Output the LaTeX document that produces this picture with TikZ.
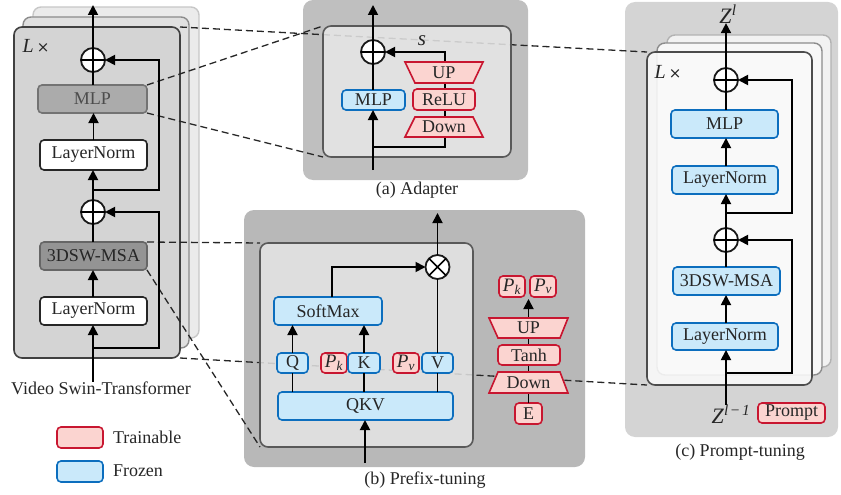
\documentclass[tikz,border=0pt]{standalone}
\usepackage{fontspec}
\setmainfont{Liberation Serif}
\newfontfamily\symfont{DejaVu Sans}
\usetikzlibrary{arrows.meta}
\definecolor{redB}{RGB}{200,22,48}
\definecolor{redF}{RGB}{251,212,208}
\definecolor{bluB}{RGB}{12,110,190}
\definecolor{bluF}{RGB}{202,233,250}
\newcommand{\Pk}{{\fontsize{19}{20}\selectfont\textit{P}\textsubscript{\textit{k}}}}
\newcommand{\Pv}{{\fontsize{19}{20}\selectfont\textit{P}\textsubscript{\textit{v}}}}
\newcommand{\Lx}{{\fontsize{20}{20}\selectfont\textit{L}}\,{\symfont\fontsize{15}{15}\selectfont ×}}
\begin{document}
\begin{tikzpicture}[x=1pt,y=-1pt,
  every node/.style={font=\fontsize{18}{20}\selectfont, text=black!85, inner sep=0pt, outer sep=0pt},
  frozen/.style={draw=bluB, fill=bluF, line width=1.6pt, rounded corners=4pt},
  train/.style={draw=redB, fill=redF, line width=1.6pt, rounded corners=4pt},
  trap/.style={draw=redB, fill=redF, line width=1.6pt, line join=miter},
  wbox/.style={draw=black!85, fill=white, line width=1.6pt, rounded corners=4pt},
  gbox/.style={draw=black!55, fill=black!33, line width=1.6pt, rounded corners=4pt},
  arr/.style={line width=1.8pt, -{Triangle[length=10pt,width=10pt]}},
  ln/.style={line width=1.8pt},
  dsh/.style={dash pattern=on 7pt off 4pt, line width=1.3pt, draw=black!85},
  opl/.style={circle, draw=black!90, line width=1.8pt, fill=white, minimum size=24pt},
  panel/.style={rounded corners=10pt},
  innerb/.style={draw=black!65, line width=1.6pt, rounded corners=8pt, fill opacity=0.85},
]
\useasboundingbox (0,0) rectangle (841,495);

% ---------------- outer panels ----------------
\fill[black!25, panel] (303,0) rectangle (528,180);
\fill[black!28, panel] (244,210) rectangle (585,467);
\fill[black!17, panel] (625,2) rectangle (838,437);

% left stacked layers
\draw[fill=black!8, draw=black!22, line width=1.4pt, rounded corners=8pt] (33,7) rectangle (199,338);
\draw[fill=black!12, draw=black!45, line width=1.4pt, rounded corners=8pt] (23,17) rectangle (189,348);
\draw[fill=black!17, draw=black!75, line width=1.6pt, rounded corners=8pt] (14,27) rectangle (180,358);
\coordinate (LNE) at (180,27);
\coordinate (LSE) at (180,358);

% prompt stacked layers
\draw[fill=black!5, draw=black!30, line width=1.4pt, rounded corners=8pt] (667,35) rectangle (831,367);
\draw[fill=black!3, draw=black!45, line width=1.4pt, rounded corners=8pt] (657,43) rectangle (822,375);
\coordinate (PNW) at (647,52);
\coordinate (PSW) at (647,385);

% left boxes (needed for dashed anchors)
\node[gbox, minimum width=109pt, minimum height=28pt, text=black!70] (mlpL) at (92.5,99) {MLP};
\node[gbox, fill=black!42, draw=black!60, minimum width=107pt, minimum height=28pt] (msaL) at (93.5,256) {3DSW-MSA};

\coordinate (ANW) at (323,26);
\coordinate (ASW) at (323,157);
\coordinate (BNW) at (260,243);
\coordinate (BSW) at (260,447);

% ---------------- dashed links ----------------
\draw[dsh] (LNE) -- (PNW);
\draw[dsh] (LSE) -- (PSW);
\draw[dsh] (mlpL.north east) -- (ANW);
\draw[dsh] (mlpL.south east) -- (ASW);
\draw[dsh] (msaL.north east) -- (BNW);
\draw[dsh] (msaL.south east) -- (BSW);

% inner boxes
\draw[innerb, fill=black!9] (ANW) rectangle (511,157);
\draw[innerb, fill=black!10] (BNW) rectangle (473,447);
\draw[draw=black!70, line width=1.6pt, rounded corners=8pt, fill=black!2, fill opacity=0.88] (PNW) rectangle (812,385);

% ---------------- left panel ----------------
\node at (36,46) (Lx) {\Lx};
\node[wbox, minimum width=107pt, minimum height=30pt] (ln1L) at (93.5,155) {LayerNorm};
\node[wbox, minimum width=107pt, minimum height=28pt] (ln2L) at (93.5,311) {LayerNorm};
\node[opl] (oUL) at (93,60) {};
\node[opl] (oLL) at (93,212) {};
\foreach \o in {oUL,oLL}{\draw[line width=1.6pt] (\o.north)--(\o.south) (\o.west)--(\o.east);}
\node (vst) at (101,388) {Video Swin-Transformer};
\coordinate (topL) at (93,5);
\coordinate (j1L) at (93,190);
\coordinate (j2L) at (93,348);
\draw[arr] (oUL.north) -- (topL);
\draw[ln] (mlpL.north -| oUL) -- (oUL.south);
\draw[arr] (ln1L.north) -- (mlpL.south -| ln1L);
\draw[arr] (oLL.north) -- (ln1L.south -| oLL);
\draw[arr] (j1L) -- (159,190) |- (oUL.east);
\draw[ln] (msaL.north -| oLL) -- (oLL.south);
\draw[arr] (ln2L.north -| oLL) -- (msaL.south -| oLL);
\draw[arr] (vst.north -| oLL) -- (ln2L.south -| oLL);
\draw[arr] (j2L) -- (159,348) |- (oLL.east);

% ---------------- adapter ----------------
\coordinate (aIn) at (373,170);
\coordinate (aTop) at (373,5);
\coordinate (aJ) at (373,147);
\node[opl] (oA) at (373,52) {};
\draw[line width=1.6pt] (oA.north)--(oA.south) (oA.west)--(oA.east);
\draw[arr] (aJ) -- (445,147) -- (445,52) -- (oA.east);
\draw[trap] (405,62) -- (483,62) -- (473,83) -- (415,83) -- cycle;
\node (upA) at (444,72.5) {UP};
\node[train, minimum width=62pt, minimum height=21pt] (reluA) at (444,99.5) {ReLU};
\draw[trap] (415,117) -- (473,117) -- (483,137) -- (405,137) -- cycle;
\node (dnA) at (444,127) {Down};
\node[frozen, minimum width=63pt, minimum height=20pt] (mlpA) at (373.5,100) {MLP};
\node (sA) at (422,41) {\fontsize{21}{21}\selectfont\textit{s}};
\draw[arr] (aIn) -- (mlpA.south -| aIn);
\draw[ln] (mlpA.north -| oA) -- (oA.south);
\draw[arr] (oA.north) -- (aTop);
\node (capA) at (417,190) {(a) Adapter};

% ---------------- prefix-tuning ----------------
\node[frozen, minimum width=175pt, minimum height=28pt] (qkv) at (365.5,406) {QKV};
\node[frozen, minimum width=31pt, minimum height=20pt] (Q) at (292.5,363) {Q};
\node[train, minimum width=26pt, minimum height=20pt] (Pk) at (334,363) {\Pk};
\node[frozen, minimum width=32pt, minimum height=20pt] (K) at (364,363) {K};
\node[train, minimum width=26pt, minimum height=20pt] (Pv) at (406,363) {\Pv};
\node[frozen, minimum width=31pt, minimum height=20pt] (V) at (437.5,363) {V};
\node[frozen, minimum width=108pt, minimum height=28pt] (smx) at (328,311) {SoftMax};
\node[opl] (oX) at (437.5,267) {};
\draw[line width=1.6pt] (oX.north west)--(oX.south east) (oX.north east)--(oX.south west);
\coordinate (bIn) at (365,463);
\coordinate (bTop) at (437.5,213);
\draw[arr] (bIn) -- (qkv.south -| bIn);
\foreach \b in {Q,K,V}{\draw[ln] (qkv.north -| \b) -- (\b.south);}
\draw[arr] (Q.north) -- (smx.south -| Q);
\draw[arr] (K.north) -- (smx.south -| K);
\draw[ln] (V.north) -- (oX.south);
\draw[arr] ([xshift=4pt]smx.north) |- (oX.west);
\draw[arr] (oX.north) -- (bTop);
% generator branch
\node[train, minimum width=27pt, minimum height=21pt] (E) at (528.5,413.5) {E};
\node[train, minimum width=26pt, minimum height=21pt] (Pk2) at (512,286.5) {\Pk};
\node[train, minimum width=26pt, minimum height=21pt] (Pv2) at (543,286.5) {\Pv};
\coordinate (gTop) at (528.5,299);
\draw[arr] (E.north) -- (gTop);
\draw[trap] (489,318) -- (568,318) -- (560,338) -- (498,338) -- cycle;
\node (upP) at (528.5,328) {UP};
\node[train, minimum width=62pt, minimum height=20pt] (tanh) at (529,355) {Tanh};
\draw[trap] (498,372) -- (560,372) -- (568,393) -- (489,393) -- cycle;
\node (dnP) at (528.5,382.5) {Down};
\node (capB) at (425,480) {(b) Prefix-tuning};

% ---------------- prompt-tuning ----------------
\node at (668,72) (Lx2) {\Lx};
\node (zl) at (728,14) {\fontsize{22}{22}\selectfont\textit{Z}\textsuperscript{\textit{l}}};
\node (zl1) at (731,414) {\fontsize{22}{22}\selectfont\textit{Z}\textsuperscript{\textit{l}\,−\,\textit{1}}};
\node[train, minimum width=67pt, minimum height=20pt] (prompt) at (791.5,413) {Prompt};
\node[opl] (oUP) at (726,80) {};
\node[opl] (oLP) at (726,240) {};
\foreach \o in {oUP,oLP}{\draw[line width=1.6pt] (\o.north)--(\o.south) (\o.west)--(\o.east);}
\node[frozen, minimum width=107pt, minimum height=28pt] (mlpP) at (724.5,124) {MLP};
\node[frozen, minimum width=106pt, minimum height=28pt] (ln1P) at (725,180) {LayerNorm};
\node[frozen, minimum width=107pt, minimum height=28pt] (msaP) at (726.5,281) {3DSW-MSA};
\node[frozen, minimum width=106pt, minimum height=27pt] (ln2P) at (725,336.5) {LayerNorm};
\coordinate (j1P) at (726,213);
\coordinate (j2P) at (726,373);
\draw[arr] (oUP.north) -- (zl.south -| oUP);
\draw[ln] (mlpP.north -| oUP) -- (oUP.south);
\draw[arr] (ln1P.north -| oUP) -- (mlpP.south -| oUP);
\draw[arr] (oLP.north) -- (ln1P.south -| oLP);
\draw[arr] (j1P) -- (792,213) |- (oUP.east);
\draw[ln] (msaP.north -| oLP) -- (oLP.south);
\draw[arr] (ln2P.north -| oLP) -- (msaP.south -| oLP);
\draw[arr] (zl1.north -| oLP) -- (ln2P.south -| oLP);
\draw[arr] (j2P) -- (792,373) |- (oLP.east);
\node (capC) at (740,452) {(c) Prompt-tuning};

% ---------------- legend ----------------
\node[train, minimum width=46pt, minimum height=21pt] (legT) at (80,437.5) {};
\node[frozen, minimum width=46pt, minimum height=21pt] (legF) at (80,471.5) {};
\node[anchor=west] (legTt) at (113,437) {Trainable};
\node[anchor=west] (legFt) at (113,471) {Frozen};
\end{tikzpicture}
\end{document}
